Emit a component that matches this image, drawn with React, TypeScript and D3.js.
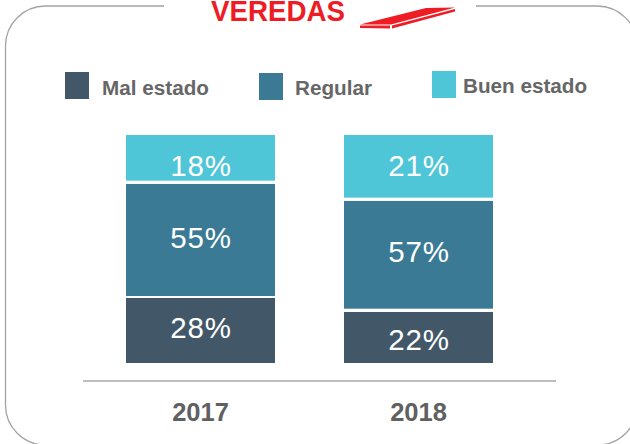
import React from "react";
import * as d3 from "d3";

const years = ["2017", "2018"];
const categories = ["Mal estado", "Regular", "Buen estado"];
const colors = ["#425868", "#3a7a94", "#4fc5d8"];
// segment heights as drawn (share of the column), bottom to top
const drawn2017 = [28.95, 50.3, 20.75];
const drawn2018 = [23.1, 48.7, 28.2];
const labels2017 = ["28%", "55%", "18%"];
const labels2018 = ["22%", "57%", "21%"];

// layout, kept apart from the data
const gaps2017 = [2, 3.3];
const gaps2018 = [3.3, 3.3];
const labelYs2017 = [338, 248, 175.5];
const labelYs2018 = [350, 262, 175.5];
const legendX = [65, 259, 432];
const legendY = [72, 73, 71];
const legendTextX = [102, 295, 463];
const legendTextY = [94.5, 94.5, 93];

const font = "'Liberation Sans', Arial, sans-serif";

export default function App() {
  const x = d3.scaleBand().domain(years).range([126, 493]).paddingInner(1 - 149 / 218).paddingOuter(0);
  const w = x.bandwidth();
  const y = d3.scaleLinear().domain([0, 100]).range([363, 135]);
  const series = [
    { year: "2017", vals: drawn2017, labs: labels2017, ly: labelYs2017, gaps: gaps2017 },
    { year: "2018", vals: drawn2018, labs: labels2018, ly: labelYs2018, gaps: gaps2018 },
  ];
  return (
    <svg width={630} height={444} style={{ position: "absolute", left: 0, top: 0, background: "#fff" }}>
      <path
        d="M164 6 H45.5 A40 40 0 0 0 5.5 46 V405 A40 40 0 0 0 45.5 445 H597 A40 40 0 0 0 637.5 405 V46.5 A40.5 40.5 0 0 0 597 6 H476"
        fill="none"
        stroke="#a3a3a3"
        strokeWidth={1.3}
      />
      <text x={211} y={20.5} fontFamily={font} fontWeight={700} fontSize={29} fill="#ee1c25" textLength={134} lengthAdjust="spacingAndGlyphs">
        VEREDAS
      </text>
      <polygon points="360,24.5 426,8 455,7.5 391,24.5" fill="#ee1c25" />
      <polygon points="360,25.5 390,25.5 390,28.5 360,28" fill="#ee1c25" />
      <polygon points="392,25.5 455,9 455,11.5 392,28.5" fill="#ee1c25" />
      {categories.map((c, i) => (
        <g key={c}>
          <rect x={legendX[i]} y={legendY[i]} width={24} height={27} fill={colors[i]} />
          <text x={legendTextX[i]} y={legendTextY[i]} fontFamily={font} fontWeight={700} fontSize={20.7} fill="#666">
            {c}
          </text>
        </g>
      ))}
      {series.map((s) => {
        const stack = d3.cumsum(s.vals);
        const bx = x(s.year) as number;
        return (
          <g key={s.year}>
            {s.vals.map((v, i) => {
              const top = y(stack[i]) + (i < 2 ? s.gaps[i] / 2 : 0);
              const bottom = y(stack[i] - v) - (i > 0 ? s.gaps[i - 1] / 2 : 0);
              return <rect key={i} x={bx} y={top} width={w} height={bottom - top} fill={colors[i]} />;
            })}
            {s.labs.map((l, i) => (
              <text
                key={l}
                x={bx + w / 2 + 0.5}
                y={s.ly[i]}
                textAnchor="middle"
                fontFamily={font}
                fontSize={29.5}
                letterSpacing={0.9}
                fill="#fff"
              >
                {l}
              </text>
            ))}
            <text x={bx + w / 2} y={420.5} textAnchor="middle" fontFamily={font} fontWeight={700} fontSize={25.5} fill="#606060">
              {s.year}
            </text>
          </g>
        );
      })}
      <line x1={83} x2={556} y1={381} y2={381} stroke="#a8a8a8" strokeWidth={1.3} />
    </svg>
  );
}
